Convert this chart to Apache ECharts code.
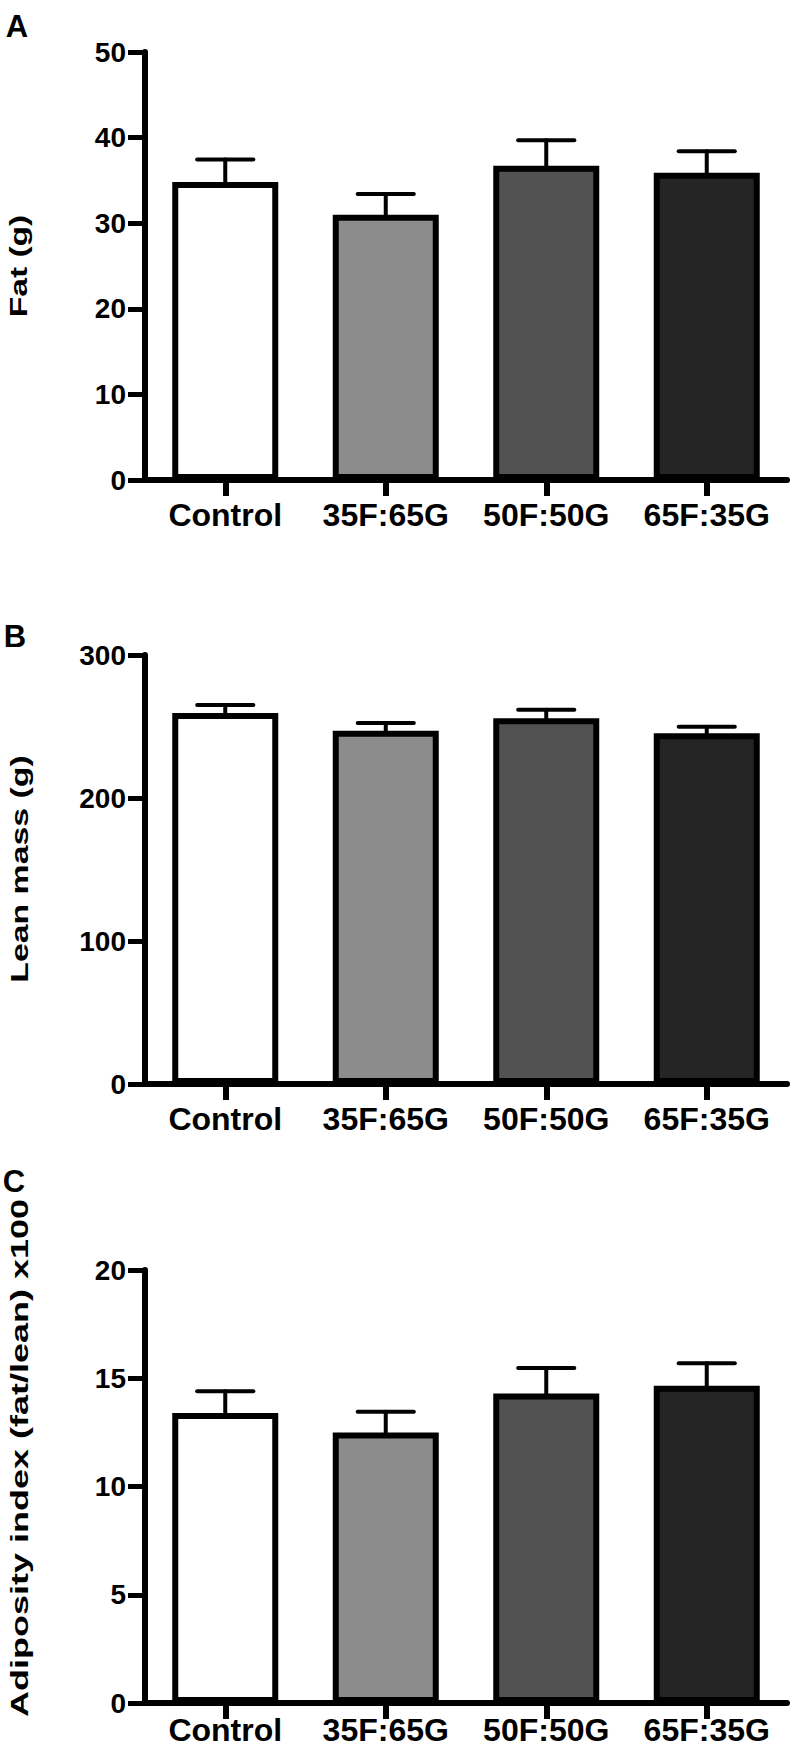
<!DOCTYPE html>
<html>
<head>
<meta charset="utf-8">
<script src="https://cdn.jsdelivr.net/npm/echarts@6/dist/echarts.min.js"></script>
<style>
  html, body { margin: 0; padding: 0; background: #ffffff; }
  #chart { width: 791px; height: 1749px; }
</style>
</head>
<body>
<div id="chart"></div>
<script>
// ---- data ----
const categories = ['Control', '35F:65G', '50F:50G', '65F:35G'];
const barColors = ['#ffffff', '#8c8c8c', '#525252', '#252525'];

const fatMean = [34.8, 31.0, 36.7, 35.9];
const fatSem = [2.65, 2.4, 3.0, 2.5];

const leanMean = [259.5, 247.0, 255.7, 245.2];
const leanSem = [5.5, 5.5, 6.0, 4.6];

const adiposityMean = [13.4, 12.5, 14.3, 14.65];
const adipositySem = [1.0, 0.95, 1.17, 1.04];

const panelLetters = ['A', 'B', 'C'];
const yTitles = ['Fat (g)', 'Lean mass (g)', 'Adiposity index (fat/lean) x100'];
const yMax = [50, 300, 20];
const yInterval = [10, 100, 5];

// ---- layout ----
const FONT = '"Liberation Sans", Arial, Helvetica, sans-serif';
const grids = [
  { left: 145, right: 4, top: 52, bottom: 1749 - 480 },
  { left: 145, right: 4, top: 655, bottom: 1749 - 1084 },
  { left: 145, right: 4, top: 1270, bottom: 1749 - 1703 }
];
const labelMargins = [19, 19, 11];
const titlePos = [
  { x: 19, y: 266, sx: 1.40 },
  { x: 19, y: 869, sx: 1.41 },
  { x: 19, y: 1458, sx: 1.50 }
];
const letterPos = [
  { x: 17, y: 26 },
  { x: 15, y: 636 },
  { x: 14, y: 1181 }
];

const means = [fatMean, leanMean, adiposityMean];
const sems = [fatSem, leanSem, adipositySem];

const xAxes = [], yAxes = [], series = [], graphics = [];

for (let g = 0; g < 3; g++) {
  xAxes.push({
    type: 'category',
    gridIndex: g,
    data: categories,
    boundaryGap: true,
    axisLine: { show: true, onZero: false, lineStyle: { color: '#000', width: 6 } },
    axisTick: { show: true, alignWithLabel: true, length: 16, lineStyle: { color: '#000', width: 6 } },
    axisLabel: {
      interval: 0,
      hideOverlap: false,
      color: '#000', fontSize: 32, lineHeight: 32, fontWeight: 'bold', fontFamily: FONT,
      margin: labelMargins[g]
    }
  });
  yAxes.push({
    type: 'value',
    gridIndex: g,
    min: 0,
    max: yMax[g],
    interval: yInterval[g],
    splitLine: { show: false },
    axisLine: { show: true, lineStyle: { color: '#000', width: 6 } },
    axisTick: { show: true, length: 17, lineStyle: { color: '#000', width: 5 } },
    axisLabel: { color: '#000', fontSize: 28, fontWeight: 'bold', fontFamily: FONT, margin: 19 }
  });
  series.push({
    type: 'bar',
    xAxisIndex: g,
    yAxisIndex: g,
    barWidth: 106,
    data: means[g].map((v, i) => ({
      value: v,
      itemStyle: { color: barColors[i] }
    })),
    itemStyle: { borderColor: '#000', borderWidth: 6 },
    silent: true
  });
  series.push({
    type: 'custom',
    xAxisIndex: g,
    yAxisIndex: g,
    silent: true,
    data: means[g].map((v, i) => [i, v, sems[g][i]]),
    renderItem: function (params, api) {
      const idx = api.value(0);
      const m = api.value(1);
      const e = api.value(2);
      const p0 = api.coord([idx, m]);
      const p1 = api.coord([idx, m + e]);
      const half = api.size([1, 0])[0] * 0.175;
      const st = { stroke: '#000', lineWidth: 4, lineCap: 'round' };
      return {
        type: 'group',
        children: [
          { type: 'line', shape: { x1: p0[0], y1: p0[1], x2: p1[0], y2: p1[1] }, style: st },
          { type: 'line', shape: { x1: p1[0] - half, y1: p1[1], x2: p1[0] + half, y2: p1[1] }, style: st }
        ]
      };
    },
    z: 3
  });
  graphics.push({
    type: 'text',
    x: titlePos[g].x,
    y: titlePos[g].y,
    rotation: Math.PI / 2,
    scaleX: titlePos[g].sx,
    style: {
      text: yTitles[g],
      font: 'bold 24px ' + FONT,
      fill: '#000',
      textAlign: 'center',
      textVerticalAlign: 'middle',
      align: 'center',
      verticalAlign: 'middle'
    }
  });
  graphics.push({
    type: 'text',
    x: letterPos[g].x,
    y: letterPos[g].y,
    style: {
      text: panelLetters[g],
      font: 'bold 31px ' + FONT,
      fill: '#000',
      textAlign: 'center',
      textVerticalAlign: 'middle',
      align: 'center',
      verticalAlign: 'middle'
    }
  });
}

const chart = echarts.init(document.getElementById('chart'), null, { renderer: 'svg', width: 791, height: 1749 });
chart.setOption({
  backgroundColor: '#ffffff',
  animation: false,
  grid: grids,
  xAxis: xAxes,
  yAxis: yAxes,
  series: series,
  graphic: graphics
});
</script>
</body>
</html>
